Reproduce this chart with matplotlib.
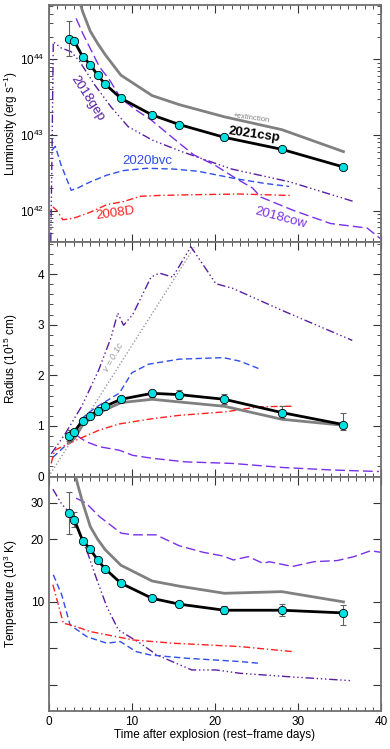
import numpy as np
import matplotlib
matplotlib.use('Agg')
import matplotlib.pyplot as plt
from matplotlib.ticker import MultipleLocator, LogLocator, FixedLocator, NullFormatter, FixedFormatter

plt.rcParams['font.family'] = ['Liberation Sans', 'DejaVu Sans']
plt.rcParams['mathtext.fontset'] = 'custom'
plt.rcParams['mathtext.rm'] = 'Liberation Sans'
plt.rcParams['mathtext.it'] = 'Liberation Sans:italic'
plt.rcParams['mathtext.bf'] = 'Liberation Sans:bold'

# ---------------- data: SN 2021csp ----------------
t_csp = [2.4, 3.08, 4.08, 5.0, 5.88, 6.8, 8.68, 12.44, 15.72, 21.12, 28.04, 35.44]
logL_csp = [44.269, 44.238, 44.035, 43.93, 43.79, 43.67, 43.485, 43.264, 43.137, 42.969, 42.81, 42.577]
logL_lo = [44.044, 44.21, 44.01, 43.91, 43.77, 43.65, 43.465, 43.245, 43.12, 42.95, 42.79, 42.557]
logL_hi = [44.51, 44.265, 44.06, 43.95, 43.81, 43.69, 43.505, 43.283, 43.155, 42.988, 42.83, 42.597]
R_csp = [0.80, 0.889, 1.106, 1.204, 1.303, 1.389, 1.527, 1.645, 1.619, 1.527, 1.264, 1.027]
R_err_lo = [0.10, 0.06, 0.05, 0.05, 0.05, 0.05, 0.05, 0.07, 0.08, 0.09, 0.10, 0.10]
R_err_hi = [0.12, 0.06, 0.05, 0.06, 0.05, 0.05, 0.05, 0.07, 0.09, 0.10, 0.13, 0.22]
T_csp = [26.7, 24.8, 19.7, 17.9, 15.9, 14.4, 12.3, 10.4, 9.75, 9.12, 9.12, 8.85]
T_err_lo = [5.5, 2.0, 0.5, 0.5, 0.4, 0.4, 0.3, 0.3, 0.35, 0.4, 0.6, 1.1]
T_err_hi = [6.9, 2.2, 0.5, 0.5, 0.4, 0.4, 0.3, 0.3, 0.35, 0.4, 0.6, 0.85]

# 2021csp with extinction correction (grey)
t_ext_L = [3.08, 4.08, 5.0, 5.88, 6.8, 8.68, 12.44, 15.72, 21.12, 28.04, 35.44]
logL_ext = [45.0, 44.63, 44.37, 44.21, 44.06, 43.79, 43.52, 43.40, 43.24, 43.07, 42.78]
t_ext = [2.4, 3.08, 4.08, 5.0, 5.88, 6.8, 8.68, 12.44, 15.72, 21.12, 28.04, 35.44]
R_ext = [0.672, 0.75, 1.02, 1.14, 1.24, 1.32, 1.461, 1.527, 1.474, 1.389, 1.132, 1.014]
t_ext_T = [3.08, 4.08, 5.0, 5.88, 6.8, 8.68, 12.44, 15.72, 21.12, 28.04, 35.44]
T_ext = [42.0, 30.0, 23.0, 20.0, 17.8, 15.0, 12.6, 11.9, 11.0, 11.2, 10.0]

# ---------------- comparison objects ----------------
t_gep_L = [0.25, 0.4, 0.55, 1.5, 2.7, 3.73, 5.54, 7.5, 9.55, 12.5, 16.0, 22.0, 29.0, 36.7]
logL_gep = [41.6, 42.8, 44.23, 44.15, 44.1, 43.97, 43.66, 43.37, 43.11, 42.93, 42.78, 42.55, 42.38, 42.12]
t_gep_R = [0.3, 2.0, 4.0, 6.0, 7.5, 8.3, 9.0, 10.1, 12.3, 13.3, 14.9, 17.1, 20.1, 22.1, 28.1, 36.5]
R_gep = [0.45, 0.85, 1.4, 2.1, 2.75, 3.23, 2.99, 3.2, 3.94, 4.02, 3.94, 4.54, 3.81, 3.72, 3.28, 2.69]
t_gep_T = [0.5, 1.5, 2.5, 3.7, 4.77, 5.78, 6.98, 8.38, 11.0, 13.0, 17.2, 20.1, 23.0, 28.5, 36.5]
T_gep = [34.8, 29.8, 26.7, 21.4, 16.8, 12.8, 9.5, 7.33, 6.33, 5.56, 4.71, 4.71, 4.54, 4.38, 4.18]

t_cow_L = [3.3, 4.1, 5.1, 6.1, 7.3, 8.7, 10.5, 12.3, 14.5, 17.4, 20.0, 22.6, 24.5, 25.5, 29.5, 33.9, 38.3, 40.0]
logL_cow = [44.54, 44.34, 44.12, 43.90, 43.73, 43.48, 43.33, 43.2, 43.0, 42.74, 42.6, 42.42, 42.3, 42.18, 42.0, 41.83, 41.77, 41.62]
t_cow_R = [3.3, 4.5, 6.1, 8.5, 10.1, 12.5, 16.5, 22.1, 28.1, 34.1, 39.7]
R_cow = [0.82, 0.69, 0.59, 0.52, 0.42, 0.36, 0.29, 0.26, 0.18, 0.13, 0.10]
t_cow_T = [3.3, 4.5, 6.1, 8.7, 10.1, 12.9, 15.7, 18.6, 21.0, 22.2, 24.0, 25.8, 26.5, 29.3, 31.9, 34.7, 36.7, 38.7, 40.0]
T_cow = [31.5, 29.8, 25.7, 21.4, 21.0, 21.0, 18.6, 17.3, 16.6, 15.9, 16.5, 15.3, 15.6, 14.8, 15.6, 15.8, 16.5, 17.6, 17.3]

t_bvc_L = [0.4, 0.8, 1.5, 2.7, 3.5, 5.0, 7.0, 9.0, 11.8, 15.0, 18.0, 22.6, 26.0, 28.9]
logL_bvc = [42.8, 42.85, 42.6, 42.27, 42.3, 42.38, 42.47, 42.53, 42.56, 42.55, 42.52, 42.42, 42.36, 42.32]
t_bvc_R = [0.5, 2.6, 4.0, 5.5, 7.0, 8.5, 10.0, 12.0, 15.7, 21.0, 23.0, 25.3]
R_bvc = [0.38, 0.7, 1.15, 1.35, 1.5, 1.65, 2.05, 2.22, 2.32, 2.35, 2.28, 2.13]
t_bvc_T = [0.55, 1.57, 2.57, 4.6, 7.0, 8.6, 10.5, 12.2, 16.6, 23.0, 25.3]
T_bvc = [13.5, 10.8, 7.75, 6.8, 6.33, 6.45, 5.77, 5.56, 5.36, 5.17, 5.07]

t_08D_L = [0.5, 1.0, 1.7, 3.0, 5.0, 7.0, 9.0, 11.0, 13.0, 17.0, 23.0, 29.3]
logL_08D = [42.05, 42.0, 41.88, 41.9, 41.98, 42.08, 42.12, 42.19, 42.2, 42.21, 42.22, 42.2]
t_08D_R = [0.3, 0.7, 3.3, 6.1, 8.5, 12.3, 15.7, 21.3, 25.3, 29.3]
R_08D = [0.26, 0.52, 0.72, 0.92, 1.04, 1.14, 1.21, 1.28, 1.38, 1.39]
t_08D_T = [0.5, 1.76, 2.9, 5.0, 6.1, 10.2, 15.0, 23.0, 29.3]
T_08D = [12.1, 7.9, 7.7, 7.2, 7.06, 6.56, 6.33, 6.1, 5.77]

t_vline = [0.0, 17.5]
R_vline = [0.0, 4.53]

# ---------------- styles ----------------
c_gep = '#5a1ea0'
c_cow = '#7a30e6'
c_bvc = '#2f4fe8'
c_08D = '#ff2020'
c_grey = '#808080'
c_cyan = '#00e0e0'
ls_gep = (0, (6, 2, 1, 2, 1, 2, 1, 2))
ls_cow = (0, (7, 3))
ls_bvc = (0, (4.5, 2.5))
ls_08D = (0, (5, 2, 1, 2))
fs = 8.5
fl = 9.5

fig = plt.figure(figsize=(3.9, 7.49), dpi=100)
L = 0.1249
W = 0.853
ax1 = fig.add_axes([L, 0.6773, W, 0.3160])
ax2 = fig.add_axes([L, 0.3637, W, 0.3136])
ax3 = fig.add_axes([L, 0.0511, W, 0.3126])

def style(ax):
    ax.set_xlim(0, 40)
    ax.xaxis.set_major_locator(MultipleLocator(10))
    ax.xaxis.set_minor_locator(MultipleLocator(1))
    ax.tick_params(which='both', direction='in', top=True, right=True, labelsize=fs, color='#333333')
    ax.tick_params(which='major', length=6, width=0.8)
    ax.tick_params(which='minor', length=3, width=0.6)
    for s in ax.spines.values():
        s.set_color('#707070')
        s.set_linewidth(1.3)

def csp(ax, t, y, elo, ehi, ygrey_t, ygrey):
    ax.plot(ygrey_t, ygrey, color=c_grey, lw=2.0, zorder=3)
    ax.errorbar(t, y, yerr=[elo, ehi], fmt='none', ecolor='#606060', elinewidth=0.8, capsize=2.0, capthick=0.8, zorder=4)
    ax.plot(t, y, color='black', lw=2.0, zorder=5)
    ax.plot(t, y, 'o', ms=6, mfc=c_cyan, mec='black', mew=0.6, zorder=6)

# ---- luminosity ----
ax1.set_yscale('log')
Lc = 10 ** np.array(logL_csp)
csp(ax1, t_csp, Lc, Lc - 10 ** np.array(logL_lo), 10 ** np.array(logL_hi) - Lc, t_ext_L, 10 ** np.array(logL_ext))
ax1.plot(t_gep_L, 10 ** np.array(logL_gep), color=c_gep, ls=ls_gep, lw=1.0)
ax1.plot(t_cow_L, 10 ** np.array(logL_cow), color=c_cow, ls=ls_cow, lw=1.0)
ax1.plot(t_bvc_L, 10 ** np.array(logL_bvc), color=c_bvc, ls=ls_bvc, lw=1.0)
ax1.plot(t_08D_L, 10 ** np.array(logL_08D), color=c_08D, ls=ls_08D, lw=1.0)
ax1.set_ylim(10 ** 41.59, 10 ** 44.717)
ax1.yaxis.set_major_locator(LogLocator(base=10, numticks=10))
ax1.yaxis.set_minor_locator(LogLocator(base=10, subs=np.arange(2, 10), numticks=20))
ax1.yaxis.set_minor_formatter(NullFormatter())
style(ax1)
ax1.tick_params(labelbottom=False)
ax1.set_ylabel('Luminosity (erg s$^{-1}$)', fontsize=fs)
ax1.text(4.6, 10 ** 43.48, '2018gep', color=c_gep, fontsize=fl, rotation=-57, ha='center', va='center')
ax1.text(11.8, 10 ** 42.66, '2020bvc', color=c_bvc, fontsize=fl, ha='center', va='center')
ax1.text(8.0, 10 ** 41.96, '2008D', color=c_08D, fontsize=fl, rotation=8, ha='center', va='center')
ax1.text(27.9, 10 ** 41.91, '2018cow', color=c_cow, fontsize=fl, rotation=-15, ha='center', va='center')
ax1.text(24.7, 10 ** 43.0, '2021csp', color='black', fontsize=fl, fontweight='bold', rotation=-8, ha='center', va='center')
ax1.text(24.3, 10 ** 43.22, '+extinction', color=c_grey, fontsize=5.5, rotation=-8, ha='center', va='center')

# ---- radius ----
csp(ax2, t_csp, R_csp, R_err_lo, R_err_hi, t_ext, R_ext)
ax2.plot(t_vline, R_vline, color='#999999', ls=(0, (1, 1.5)), lw=1.0)
ax2.plot(t_gep_R, R_gep, color=c_gep, ls=ls_gep, lw=1.0)
ax2.plot(t_cow_R, R_cow, color=c_cow, ls=ls_cow, lw=1.0)
ax2.plot(t_bvc_R, R_bvc, color=c_bvc, ls=ls_bvc, lw=1.0)
ax2.plot(t_08D_R, R_08D, color=c_08D, ls=ls_08D, lw=1.0)
ax2.text(7.8, 2.36, '$v$ = 0.1c', color='#999999', fontsize=6.5, style='italic', rotation=60, ha='center', va='center')
ax2.set_ylim(0, 4.64)
ax2.yaxis.set_major_locator(MultipleLocator(1))
ax2.yaxis.set_minor_locator(MultipleLocator(0.2))
style(ax2)
ax2.tick_params(labelbottom=False)
ax2.set_ylabel('Radius (10$^{15}$ cm)', fontsize=fs)

# ---- temperature ----
ax3.set_yscale('log')
csp(ax3, t_csp, T_csp, T_err_lo, T_err_hi, t_ext_T, T_ext)
ax3.plot(t_gep_T, T_gep, color=c_gep, ls=ls_gep, lw=1.0)
ax3.plot(t_cow_T, T_cow, color=c_cow, ls=ls_cow, lw=1.0)
ax3.plot(t_bvc_T, T_bvc, color=c_bvc, ls=ls_bvc, lw=1.0)
ax3.plot(t_08D_T, T_08D, color=c_08D, ls=ls_08D, lw=1.0)
ax3.set_ylim(3.0, 40)
ax3.yaxis.set_major_locator(FixedLocator([4, 6, 8, 10, 20, 30]))
ax3.yaxis.set_major_formatter(FixedFormatter(['', '', '', '10', '20', '30']))
ax3.yaxis.set_minor_locator(FixedLocator([]))
style(ax3)
ax3.set_ylabel('Temperature (10$^3$ K)', fontsize=fs)
ax3.set_xlabel('Time after explosion (rest\u2212frame days)', fontsize=fs, labelpad=1)

for ax in (ax1, ax2, ax3):
    ax.yaxis.set_label_coords(-0.085, 0.5)

fig.savefig('out.png', dpi=100)
